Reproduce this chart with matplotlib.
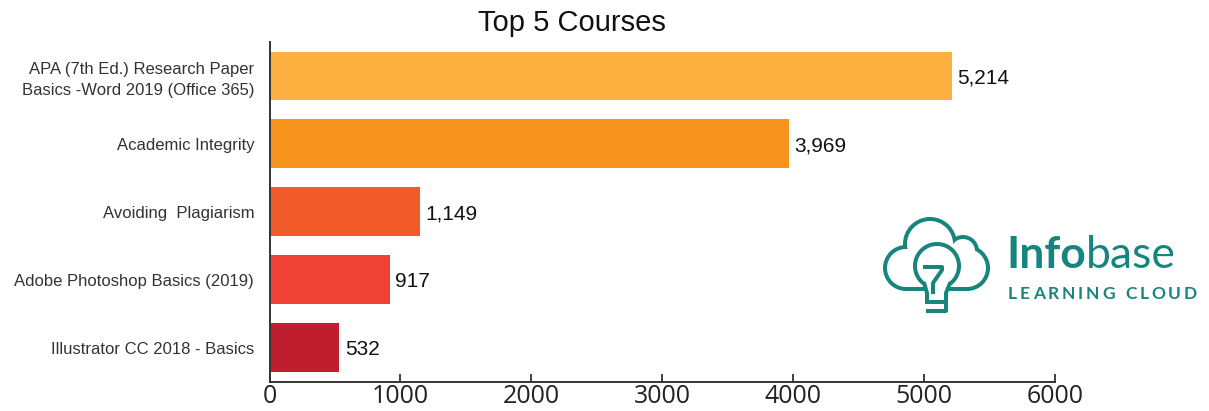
import matplotlib
matplotlib.use("Agg")
import matplotlib.pyplot as plt
from matplotlib.patches import Circle, Rectangle
import numpy as np

# ---- data ----
courses = [
    "APA (7th Ed.) Research Paper\nBasics -Word 2019 (Office 365)",
    "Academic Integrity",
    "Avoiding  Plagiarism",
    "Adobe Photoshop Basics (2019)",
    "Illustrator CC 2018 - Basics",
]
views = [5214, 3969, 1149, 917, 532]
bar_colors = ["#FBB040", "#F7941D", "#F15A29", "#EF4136", "#BE1E2D"]
x_ticks = [0, 1000, 2000, 3000, 4000, 5000, 6000]
title = "Top 5 Courses"

W, H = 1209, 411
fig = plt.figure(figsize=(W / 100, H / 100), dpi=100)
fig.patch.set_facecolor("white")

ax = fig.add_axes([269.5 / W, (H - 381.7) / H, (1055 - 269.5) / W, (381.7 - 42) / H])
y = np.arange(len(courses))
ax.barh(y, views, height=0.72, color=bar_colors, zorder=2)
ax.set_ylim(len(courses) - 0.5, -0.5)
ax.set_xlim(0, 6000)
ax.set_xticks(x_ticks)
ax.set_xticklabels([str(t) for t in x_ticks], family=["Open Sans", "DejaVu Sans"],
                   fontsize=18, color="#222222")
ax.set_yticks(y)
ax.set_yticklabels(courses, family=["Liberation Sans", "DejaVu Sans"], fontsize=12,
                   color="#333333", linespacing=1.45)
ax.tick_params(axis="y", length=0, pad=11)
ax.tick_params(axis="x", direction="in", length=6, width=1.3, color="#333333", pad=2)
for s in ["top", "right"]:
    ax.spines[s].set_visible(False)
for s in ["left", "bottom"]:
    ax.spines[s].set_linewidth(1.4)
    ax.spines[s].set_color("#333333")

for yi, v in zip(y, views):
    ax.annotate(f"{v:,}", xy=(v, yi), xytext=(4, 0), textcoords="offset points",
                ha="left", va="center_baseline", fontsize=15,
                family=["Liberation Sans", "DejaVu Sans"], color="#111111")

fig.text(571.5 / W, (H - 31) / H, title, ha="center", va="baseline", fontsize=21,
         family=["Liberation Sans", "DejaVu Sans"], color="#111111")

# ---- logo (decorative) in pixel coordinates ----
teal = "#17857E"
lax = fig.add_axes([0, 0, 1, 1])
lax.set_xlim(0, W)
lax.set_ylim(H, 0)
lax.axis("off")
lw_px = 4.0
lobes = [(906, 268, 21), (930, 244, 25), (963, 251, 14), (967, 268, 21)]
for cx, cy, r in lobes:
    lax.add_patch(Circle((cx, cy), r + lw_px / 2, color=teal, lw=0))
lax.add_patch(Rectangle((906, 258), 61, 33, color=teal, lw=0))
for cx, cy, r in lobes:
    lax.add_patch(Circle((cx, cy), r - lw_px / 2, color="white", lw=0))
lax.add_patch(Rectangle((906, 258), 61, 29, color="white", lw=0))

# bulb
bcx, bcy, br = 937, 266, 22
t = np.radians(np.linspace(125, 415, 120))
bx = bcx + br * np.cos(t)
by = bcy + br * np.sin(t)
lax.fill(bx, by, color="white", lw=0, zorder=3)
lax.add_patch(Rectangle((926, 283), 22, 10, color="white", lw=0, zorder=3))
lw_pt = lw_px * 72 / 100
lax.plot(bx, by, color=teal, lw=lw_pt, solid_capstyle="butt", zorder=4)
lax.plot([bx[0], 927, 927], [by[0], 293, 300], color=teal, lw=lw_pt, zorder=4,
         solid_joinstyle="round")
lax.plot([bx[-1], 946, 946, 928], [by[-1], 293, 311, 311], color=teal, lw=lw_pt,
         zorder=4, solid_joinstyle="round")
lax.plot([927, 946], [302, 302], color=teal, lw=lw_pt, zorder=4)
lax.plot([925, 942, 942, 933, 933], [267, 267, 270, 283, 292], color=teal, lw=lw_pt,
         zorder=4, solid_joinstyle="round")

# logo text
fig.canvas.draw()
rend = fig.canvas.get_renderer()
t1 = lax.text(1006, 268, "Info", ha="left", va="baseline", fontsize=32,
              family=["Lato", "DejaVu Sans"], weight="bold", color=teal)
bb = t1.get_window_extent(renderer=rend)
inv = lax.transData.inverted()
x_end = inv.transform((bb.x1, bb.y0))[0]
t2 = lax.text(x_end + 0.5, 268, "base", ha="left", va="baseline", fontsize=32,
              family=["Lato", "DejaVu Sans"], weight="normal", color=teal)

word = "LEARNING CLOUD"
widths = []
for ch in word:
    tt = lax.text(0, 0, ch, fontsize=12.5, family=["Lato", "DejaVu Sans"], weight="bold")
    e = tt.get_window_extent(renderer=rend)
    widths.append(e.width if ch != " " else 5.0)
    tt.remove()
x0, x1 = 1008, 1197
gap = (x1 - x0 - sum(widths)) / (len(word) - 1)
xc = x0
for ch, w in zip(word, widths):
    if ch != " ":
        lax.text(xc, 299, ch, ha="left", va="baseline", fontsize=12.5,
                 family=["Lato", "DejaVu Sans"], weight="bold", color=teal)
    xc += w + gap

fig.savefig("out.png", dpi=100, facecolor="white")
